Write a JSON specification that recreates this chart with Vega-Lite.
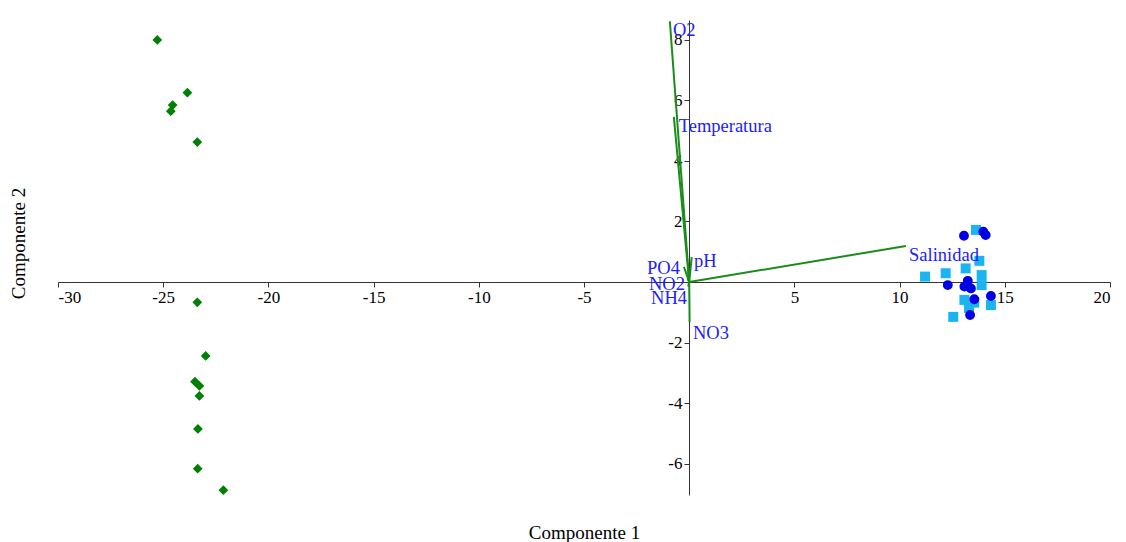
{
  "$schema": "https://vega.github.io/schema/vega-lite/v6.json",
  "width": 1052,
  "height": 475,
  "autosize": {"type": "none"},
  "padding": {"left": 58, "top": 20, "right": 16, "bottom": 47},
  "background": "white",
  "config": {"view": {"stroke": null}},
  "datasets": {
    "scores": [
      {"g": "A", "x": -25.28, "y": 7.99},
      {"g": "A", "x": -23.85, "y": 6.25},
      {"g": "A", "x": -24.55, "y": 5.84},
      {"g": "A", "x": -24.64, "y": 5.64},
      {"g": "A", "x": -23.38, "y": 4.62},
      {"g": "A", "x": -23.38, "y": -0.67},
      {"g": "A", "x": -22.98, "y": -2.44},
      {"g": "A", "x": -23.49, "y": -3.29},
      {"g": "A", "x": -23.28, "y": -3.43},
      {"g": "A", "x": -23.28, "y": -3.76},
      {"g": "A", "x": -23.35, "y": -4.85},
      {"g": "A", "x": -23.36, "y": -6.16},
      {"g": "A", "x": -22.14, "y": -6.87},
      {"g": "C", "x": 13.63, "y": 1.72},
      {"g": "C", "x": 13.79, "y": 0.7},
      {"g": "C", "x": 13.14, "y": 0.45},
      {"g": "C", "x": 11.21, "y": 0.18},
      {"g": "C", "x": 12.19, "y": 0.29},
      {"g": "C", "x": 13.9, "y": 0.23},
      {"g": "C", "x": 13.9, "y": -0.1},
      {"g": "C", "x": 13.08, "y": -0.59},
      {"g": "C", "x": 13.55, "y": -0.68},
      {"g": "C", "x": 14.34, "y": -0.76},
      {"g": "C", "x": 12.55, "y": -1.15},
      {"g": "C", "x": 13.3, "y": -0.85},
      {"g": "B", "x": 13.06, "y": 1.53},
      {"g": "B", "x": 13.98, "y": 1.66},
      {"g": "B", "x": 14.09, "y": 1.55},
      {"g": "B", "x": 12.29, "y": -0.1},
      {"g": "B", "x": 13.24, "y": 0.04},
      {"g": "B", "x": 13.08, "y": -0.15},
      {"g": "B", "x": 13.39, "y": -0.21},
      {"g": "B", "x": 13.55, "y": -0.57},
      {"g": "B", "x": 14.34, "y": -0.46},
      {"g": "B", "x": 13.35, "y": -1.09}
    ],
    "vectors": [
      {"name": "O2", "x0": 0, "y0": 0, "vx": -0.92, "vy": 8.61, "lx": -0.77, "ly": 8.33},
      {"name": "Temperatura", "x0": 0, "y0": 0, "vx": -0.73, "vy": 5.45, "lx": -0.5, "ly": 5.14},
      {"name": "Salinidad", "x0": 0, "y0": 0, "vx": 10.3, "vy": 1.19, "lx": 10.45, "ly": 0.89},
      {"name": "pH", "x0": 0, "y0": 0, "vx": 0.12, "vy": 0.82, "lx": 0.23, "ly": 0.68},
      {"name": "PO4", "x0": 0, "y0": 0, "vx": -0.25, "vy": 0.5, "lx": -0.44, "ly": 0.45},
      {"name": "NO2", "x0": 0, "y0": 0, "vx": -0.08, "vy": 0.12, "lx": -0.2, "ly": -0.05},
      {"name": "NH4", "x0": 0, "y0": 0, "vx": -0.05, "vy": -0.15, "lx": -0.1, "ly": -0.54},
      {"name": "NO3", "x0": 0, "y0": 0, "vx": 0.02, "vy": -1.33, "lx": 0.18, "ly": -1.67}
    ]
  },
  "layer": [
    {
      "data": {"name": "vectors"},
      "mark": {"type": "rule", "color": "#1a8c1a", "strokeWidth": 2},
      "encoding": {
        "x": {
          "field": "x0", "type": "quantitative",
          "scale": {"domain": [-30, 20], "nice": false, "zero": false},
          "axis": {
            "values": [-30, -25, -20, -15, -10, -5, 0, 5, 10, 15, 20],
            "labelExpr": "datum.value == 0 ? '' : '' + datum.value",
            "offset": -213,
            "grid": false,
            "title": "Componente 1",
            "titleY": 250,
            "titleBaseline": "middle",
            "titleFont": "Liberation Serif",
            "titleFontSize": 19,
            "titleFontWeight": "normal",
            "titleColor": "#000",
            "labelFont": "Liberation Serif",
            "labelFontSize": 17,
            "labelColor": "#000",
            "labelPadding": 2,
            "tickSize": 5,
            "tickColor": "#333",
            "domainColor": "#333"
          }
        },
        "y": {
          "field": "y0", "type": "quantitative",
          "scale": {"domain": [-7.03, 8.65], "nice": false, "zero": false},
          "axis": {
            "values": [-6, -4, -2, 0, 2, 4, 6, 8],
            "labelExpr": "datum.value == 0 ? '' : '' + datum.value",
            "offset": -631,
            "grid": false,
            "title": "Componente 2",
            "titleX": -671,
            "titleY": 223,
            "titleBaseline": "middle",
            "titleFont": "Liberation Serif",
            "titleFontSize": 19,
            "titleFontWeight": "normal",
            "titleColor": "#000",
            "labelFont": "Liberation Serif",
            "labelFontSize": 17,
            "labelColor": "#000",
            "labelPadding": 2,
            "tickSize": 5,
            "tickColor": "#333",
            "domainColor": "#333"
          }
        },
        "x2": {"field": "vx"},
        "y2": {"field": "vy"}
      }
    },
    {
      "data": {"name": "scores"},
      "mark": {"type": "point", "filled": true, "opacity": 1},
      "encoding": {
        "x": {"field": "x", "type": "quantitative"},
        "y": {"field": "y", "type": "quantitative"},
        "shape": {"field": "g", "type": "nominal", "scale": {"domain": ["A", "B", "C"], "range": ["diamond", "circle", "square"]}, "legend": null},
        "color": {"field": "g", "type": "nominal", "scale": {"domain": ["A", "B", "C"], "range": ["#008000", "#0000e6", "#1ab4f0"]}, "legend": null},
        "size": {"field": "g", "type": "nominal", "scale": {"domain": ["A", "B", "C"], "range": [95, 100, 115]}, "legend": null},
        "order": {"field": "g", "sort": "descending"}
      }
    },
    {
      "data": {"name": "vectors"},
      "transform": [{"filter": {"field": "name", "oneOf": ["O2", "Temperatura", "Salinidad", "pH", "NO3"]}}],
      "mark": {"type": "text", "align": "left", "baseline": "middle", "font": "Liberation Serif", "fontSize": 18.5, "color": "#2020ff"},
      "encoding": {
        "x": {"field": "lx", "type": "quantitative"},
        "y": {"field": "ly", "type": "quantitative"},
        "text": {"field": "name"}
      }
    },
    {
      "data": {"name": "vectors"},
      "transform": [{"filter": {"field": "name", "oneOf": ["PO4", "NO2", "NH4"]}}],
      "mark": {"type": "text", "align": "right", "baseline": "middle", "font": "Liberation Serif", "fontSize": 18.5, "color": "#2020ff"},
      "encoding": {
        "x": {"field": "lx", "type": "quantitative"},
        "y": {"field": "ly", "type": "quantitative"},
        "text": {"field": "name"}
      }
    }
  ]
}
